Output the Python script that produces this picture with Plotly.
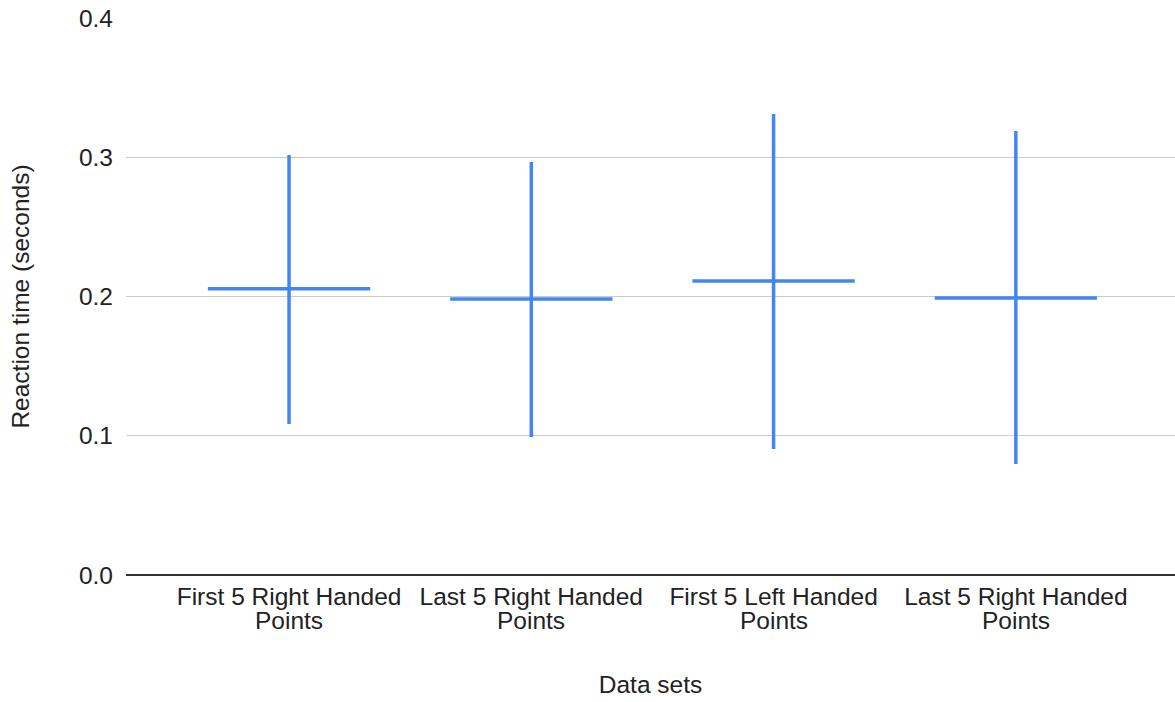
import plotly.graph_objects as go

label_line1 = ["First 5 Right Handed", "Last 5 Right Handed",
               "First 5 Left Handed", "Last 5 Right Handed"]
label_line2 = ["Points", "Points", "Points", "Points"]
means = [0.2055, 0.1982, 0.2111, 0.1990]
highs = [0.3016, 0.2966, 0.3311, 0.3188]
lows = [0.1084, 0.0991, 0.0905, 0.0797]
y_ticks = [0, 0.1, 0.2, 0.3, 0.4]
y_tick_text = ["0.0", "0.1", "0.2", "0.3", "0.4"]

xs = list(range(len(label_line1)))
plus = [h - m for h, m in zip(highs, means)]
minus = [m - l for m, l in zip(means, lows)]

color = "#4285F4"
fig = go.Figure()
fig.add_trace(go.Scatter(
    x=xs, y=means, mode="markers",
    marker=dict(size=1, color=color, opacity=0),
    error_y=dict(type="data", symmetric=False, array=plus, arrayminus=minus,
                 color=color, thickness=3.5, width=0),
    error_x=dict(type="constant", value=0.335, color=color, thickness=3.5, width=0),
    showlegend=False, hoverinfo="skip",
))

font = dict(family="Liberation Sans, Arial, sans-serif", size=24.5, color="#222222")
for x, t in zip(xs, label_line2):
    fig.add_annotation(x=x, y=0, xref="x", yref="paper", text=t, showarrow=False,
                       yanchor="top", yshift=-30, font=font)

fig.update_layout(
    width=1175, height=702,
    margin=dict(l=126, r=0, t=18, b=127),
    plot_bgcolor="white", paper_bgcolor="white",
    font=font,
    xaxis=dict(
        range=[-0.673, 3.657], tickmode="array", tickvals=xs, ticktext=label_line1,
        showgrid=False, zeroline=False, showline=False, ticks="",
        ticklabelstandoff=4,
        title=dict(text="Data sets", standoff=67, font=font),
        automargin=False, fixedrange=True,
    ),
    yaxis=dict(
        range=[0, 0.4], tickvals=y_ticks, ticktext=y_tick_text,
        showgrid=True, gridcolor="#cccccc", gridwidth=1,
        zeroline=True, zerolinecolor="#333333", zerolinewidth=2,
        showline=False, ticks="", ticklabelstandoff=12,
        title=dict(text="Reaction time (seconds)", standoff=42, font=font),
        automargin=False, fixedrange=True,
    ),
)
fig.write_html("out.html", config={"displayModeBar": False},
               post_script="document.body.style.margin='0';document.body.style.overflow='hidden';")
